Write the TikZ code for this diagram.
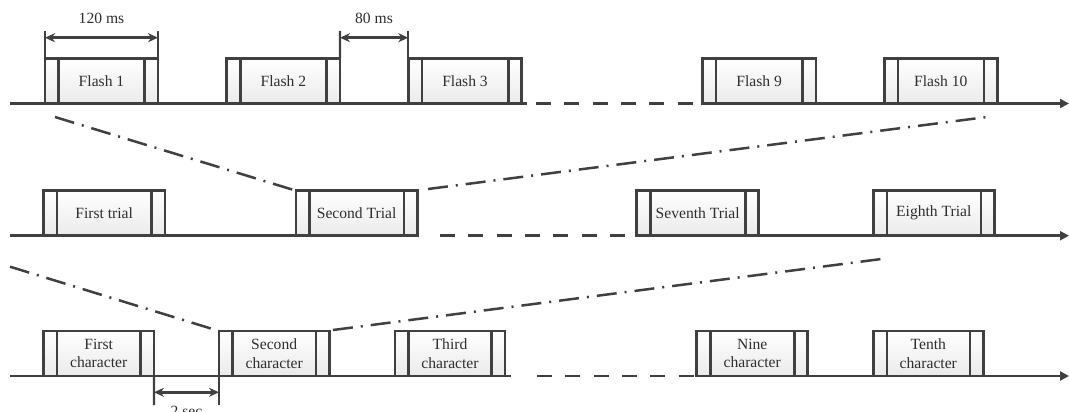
\documentclass[tikz,border=0pt]{standalone}
\usepackage{fontspec}
\setmainfont{Liberation Serif}
\usetikzlibrary{arrows.meta,calc}
\definecolor{ln}{HTML}{404040}
\definecolor{tx}{HTML}{2e2e2e}
\tikzset{
  slotbox/.style={draw=ln, line width=2.6pt, top color=white, bottom color=black!8, inner sep=0pt, outer sep=0pt, minimum height=45pt, text=tx, align=center, font=\fontsize{15.6}{18.6}\selectfont},
  slotline/.style={draw=ln, line width=2.6pt},
  axis/.style={draw=ln, line width=2.6pt},
  axisdash/.style={axis, dash pattern=on 15pt off 13.3pt},
  zoomline/.style={draw=ln, line width=2.5pt, dash pattern=on 20pt off 8pt on 2pt off 8pt},
  dimline/.style={draw=ln, line width=2.2pt},
  dimarrow/.style={draw=ln, line width=2.5pt, {Stealth[length=10pt,width=9pt]}-{Stealth[length=10pt,width=9pt]}},
  dimlabel/.style={text=tx, font=\fontsize{15.6}{18.6}\selectfont, inner sep=0pt},
  axisarrow/.style={axis, -{Triangle[length=9pt,width=9pt]}}
}
\newcommand\slotnode[5]{% name, left x, right x, axis y, text
  \node[slotbox, minimum width={(#3-#2)*1pt}] (#1) at ({(#2+#3)/2},{#4-22.5}) {#5};
  \draw[slotline] ([xshift=13.5pt]#1.north west) -- ([xshift=13.5pt]#1.south west);
  \draw[slotline] ([xshift=-13.5pt]#1.north east) -- ([xshift=-13.5pt]#1.south east);
}
\begin{document}
\begin{tikzpicture}[x=1pt,y=-1pt]
\useasboundingbox (0,0) rectangle (1069,412);
% ---------- row 1 ----------
\coordinate (a1s) at (10,103.5);
\coordinate (a1e) at (1069,103.5);
\draw[axis] (a1s) -- (527,103.5);
\draw[axisdash] (536,103.5) -- (702.3,103.5);
\draw[axisarrow] (702.3,103.5) -- (a1e);
\slotnode{f1}{45}{158}{103.5}{Flash 1}
\slotnode{f2}{226.7}{340}{103.5}{Flash 2}
\slotnode{f3}{408.3}{521.7}{103.5}{Flash 3}
\slotnode{f9}{702.3}{816}{103.5}{Flash 9}
\slotnode{f10}{884.3}{997.3}{103.5}{Flash 10}
% dimension 120 ms
\coordinate (d1a) at (45,31);
\coordinate (d1b) at (158,31);
\draw[dimline] (d1a) -- (f1.north west);
\draw[dimline] (d1b) -- (f1.north east);
\draw[dimarrow] ($(d1a)+(0,6.7)$) -- ($(d1b)+(0,6.7)$);
\node[dimlabel] (l120) at (101.5,18.3) {120 ms};
% dimension 80 ms
\coordinate (d2a) at (340,31);
\coordinate (d2b) at (408.3,31);
\draw[dimline] (d2a) -- (f2.north east);
\draw[dimline] (d2b) -- (f3.north west);
\draw[dimarrow] ($(d2a)+(0,6.7)$) -- ($(d2b)+(0,6.7)$);
\node[dimlabel] (l80) at (374,18.3) {80 ms};
% ---------- row 2 ----------
\coordinate (a2s) at (10,235.7);
\coordinate (a2e) at (1069,235.7);
\draw[axis] (a2s) -- (419,235.7);
\draw[axisdash] (440,235.7) -- (628,235.7);
\draw[axisarrow] (636.7,235.7) -- (a2e);
\slotnode{t1}{43.3}{165}{235.7}{First trial}
\slotnode{t2}{296}{417.3}{235.7}{Second Trial}
\slotnode{t7}{636.7}{758.7}{235.7}{Seventh Trial}
\slotnode{t8}{873.3}{994.3}{235.7}{Eighth Trial}
% zoom lines row1 -> row2
\coordinate (z1l) at (55,117);
\coordinate (z1r) at (987,117);
\coordinate (z1m) at (428,189);
\draw[zoomline] (z1l) -- (t2.north west);
\draw[zoomline] (z1m) -- (z1r);
% ---------- row 3 ----------
\coordinate (a3s) at (10,376);
\coordinate (a3e) at (1069,376);
\draw[axis] (a3s) -- (511,376);
\draw[axisdash] (537,376) -- (696.7,376);
\draw[axisarrow] (696.7,376) -- (a3e);
\slotnode{c1}{43.3}{154}{376}{First\\character}
\slotnode{c2}{219}{329.3}{376}{Second\\character}
\slotnode{c3}{395}{505}{376}{Third\\character}
\slotnode{c9}{696.7}{807.7}{376}{Nine\\character}
\slotnode{c10}{873.3}{983.3}{376}{Tenth\\character}
% zoom lines row2 -> row3
\coordinate (z2l) at (10,266.7);
\coordinate (z2m) at (333,330);
\coordinate (z2r) at (886.7,258.3);
\draw[zoomline] (z2l) -- (c2.north west);
\draw[zoomline] (z2m) -- (z2r);
% dimension 2 sec
\coordinate (d3a) at (154,405);
\coordinate (d3b) at (219,405);
\draw[dimline] (c1.south east) -- (d3a);
\draw[dimline] (c2.south west) -- (d3b);
\draw[dimarrow] ($(d3a)+(0,-12.7)$) -- ($(d3b)+(0,-12.7)$);
\node[dimlabel] (l2s) at (186.5,411) {2 sec};
\end{tikzpicture}
\end{document}
